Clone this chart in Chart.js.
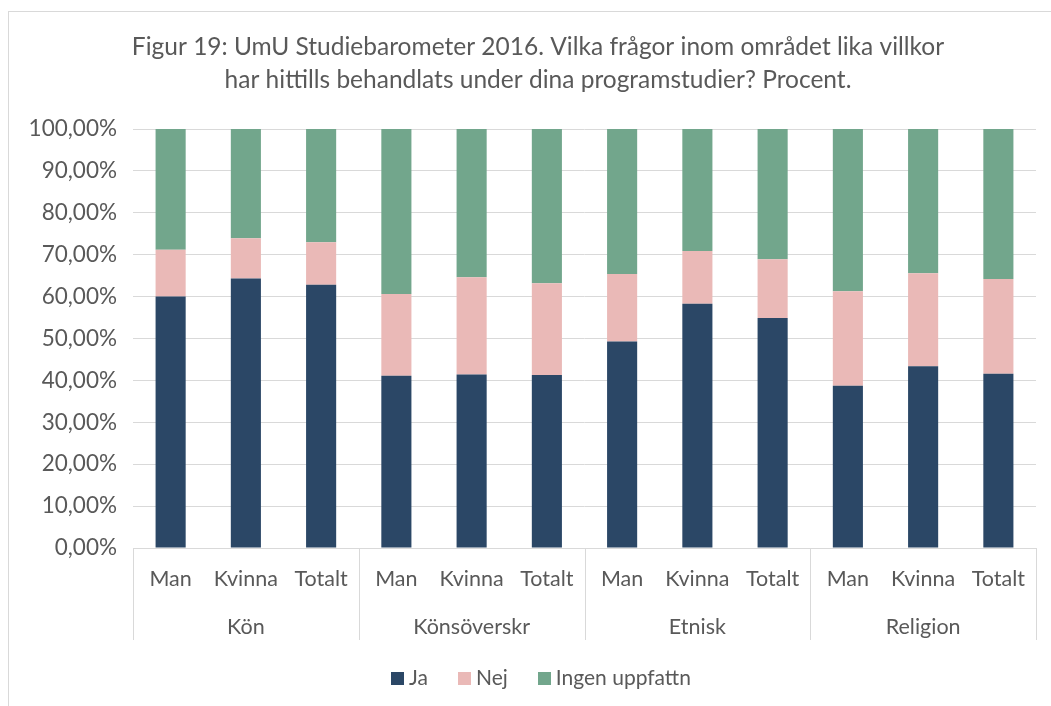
<!DOCTYPE html>
<html>
<head>
<meta charset="utf-8">
<script src="https://cdn.jsdelivr.net/npm/chart.js@4.4.0/dist/chart.umd.min.js"></script>
<style>
html,body{margin:0;padding:0;background:#fff;}
#wrap{width:1051px;height:706px;position:relative;}
</style>
</head>
<body>
<div id="wrap"><canvas id="c" width="1051" height="706"></canvas></div>
<script>
const titleLines = ["Figur 19: UmU Studiebarometer 2016. Vilka frågor inom området lika villkor", "har hittills behandlats under dina programstudier? Procent."];
const categories = ["Man","Kvinna","Totalt","Man","Kvinna","Totalt","Man","Kvinna","Totalt","Man","Kvinna","Totalt"];
const groups = ["Kön","Könsöverskr","Etnisk","Religion"];
const groupSize = 3;
const seriesNames = ["Ja","Nej","Ingen uppfattn"];
const seriesColors = ["#2b4766","#eab9b7","#72a68c"];
const ja    = [60.0, 64.3, 62.8, 41.1, 41.4, 41.3, 49.3, 58.3, 54.9, 38.7, 43.4, 41.6];
const nej   = [11.2,  9.6, 10.2, 19.5, 23.2, 21.9, 16.1, 12.6, 14.0, 22.6, 22.2, 22.6];
const ingen = [28.8, 26.1, 27.0, 39.4, 35.4, 36.8, 34.6, 29.1, 31.1, 38.7, 34.4, 35.8];
const yTickLabels = ["0,00%","10,00%","20,00%","30,00%","40,00%","50,00%","60,00%","70,00%","80,00%","90,00%","100,00%"];

const textColor = "#595959";
const gridColor = "#d9d9d9";
const FONT = "Lato";

const decor = {
  id: "decor",
  beforeDraw(chart) {
    const ctx = chart.ctx;
    ctx.save();
    ctx.strokeStyle = gridColor;
    ctx.lineWidth = 1;
    ctx.strokeRect(8.5, 11.5, 1200, 900);
    ctx.restore();
  },
  afterDraw(chart) {
    const ctx = chart.ctx;
    const x = chart.scales.x;
    const area = chart.chartArea;
    const half = (x.getPixelForValue(1) - x.getPixelForValue(0)) / 2;
    ctx.save();
    // group separators
    ctx.strokeStyle = gridColor;
    ctx.lineWidth = 1;
    for (let g = 0; g <= groups.length; g++) {
      const idx = g * groupSize;
      const px = Math.round(x.getPixelForValue(Math.min(idx, categories.length - 1)) + (idx >= categories.length ? half : -half)) + 0.5;
      ctx.beginPath();
      ctx.moveTo(px, area.bottom);
      ctx.lineTo(px, area.bottom + 92);
      ctx.stroke();
    }
    // group labels
    ctx.fillStyle = textColor;
    ctx.font = "21.5px " + FONT;
    ctx.textAlign = "center";
    ctx.textBaseline = "middle";
    groups.forEach((gname, g) => {
      const a = x.getPixelForValue(g * groupSize) - half;
      const b = x.getPixelForValue(g * groupSize + groupSize - 1) + half;
      ctx.fillText(gname, (a + b) / 2, area.bottom + 79);
    });
    // title
    ctx.font = "24.5px " + FONT;
    ctx.fillText(titleLines[0], 538, 47);
    ctx.fillText(titleLines[1], 538, 80);
    // legend
    ctx.font = "21px " + FONT;
    ctx.textAlign = "left";
    const box = 13, gap = 5, spacing = 30;
    const widths = seriesNames.map(n => ctx.measureText(n).width);
    let total = 0;
    widths.forEach((w, i) => { total += box + gap + w + (i < widths.length - 1 ? spacing : 0); });
    let lx = 541 - total / 2;
    const ly = 678;
    chart.data.datasets.forEach((ds, i) => {
      ctx.fillStyle = ds.backgroundColor;
      ctx.fillRect(Math.round(lx), ly - 6, box, box);
      ctx.fillStyle = textColor;
      ctx.fillText(ds.label, lx + box + gap, ly);
      lx += box + gap + widths[i] + spacing;
    });
    ctx.restore();
  }
};

new Chart(document.getElementById("c"), {
  type: "bar",
  data: {
    labels: categories,
    datasets: seriesNames.map((n, i) => ({
      label: n,
      data: [ja, nej, ingen][i],
      backgroundColor: seriesColors[i]
    }))
  },
  options: {
    responsive: false,
    animation: false,
    events: [],
    datasets: { bar: { categoryPercentage: 1.0, barPercentage: 0.4 } },
    layout: { padding: { left: 20, right: 15, top: 129, bottom: 72 } },
    scales: {
      x: {
        stacked: true,
        grid: { display: false },
        border: { display: true, color: gridColor, width: 1 },
        ticks: { color: textColor, font: { family: FONT, size: 21.5 }, padding: 10, maxRotation: 0, autoSkip: false },
        afterFit(s) { s.height = 86; }
      },
      y: {
        stacked: true,
        min: 0, max: 100,
        grid: { color: gridColor, lineWidth: 1, drawTicks: false },
        border: { display: false },
        ticks: {
          stepSize: 10,
          color: textColor,
          font: { family: FONT, size: 22.5 },
          padding: 16,
          callback: (v, i) => yTickLabels[i]
        },
        afterFit(s) { s.width = 113; }
      }
    },
    plugins: {
      title: { display: false },
      legend: { display: false },
      tooltip: { enabled: false }
    }
  },
  plugins: [decor]
});
</script>
</body>
</html>
